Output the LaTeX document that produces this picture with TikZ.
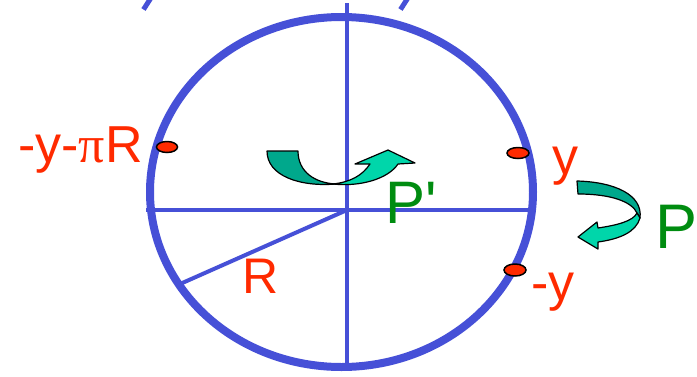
\documentclass[tikz,border=0pt]{standalone}
\usepackage{fontspec}
\newfontfamily\lblfont{Liberation Sans}
\newfontfamily\pifont{Liberation Serif}
\definecolor{ringblue}{HTML}{4650D7}
\definecolor{lblred}{HTML}{FF2A00}
\definecolor{lblgreen}{HTML}{008C10}
\definecolor{tealdark}{HTML}{00A88C}
\definecolor{teallight}{HTML}{00D6AA}
\tikzset{
  ring/.style={draw=ringblue, line width=8pt},
  axisline/.style={draw=ringblue, line width=4.5pt},
  radline/.style={draw=ringblue, line width=4pt},
  dotmark/.style={fill=lblred, draw=black, line width=1.5pt},
  redlbl/.style={text=lblred, inner sep=0pt, font=\lblfont\fontsize{52}{60}\selectfont},
  greenlbl/.style={text=lblgreen, inner sep=0pt},
  darkband/.style={fill=tealdark, draw=black, line width=1.2pt, line join=round},
  lightband/.style={fill=teallight, draw=black, line width=1.2pt, line join=round}
}
\begin{document}
\begin{tikzpicture}[x=1pt,y=-1pt]
\useasboundingbox (0,0) rectangle (697,376);
% remnants of cut-off strokes at the top
\coordinate (s1a) at (151.5,-3); \coordinate (s1b) at (143.5,9.5);
\coordinate (s2a) at (408.5,-3); \coordinate (s2b) at (400.5,9.5);
\draw[ringblue, line width=5pt] (s1a) -- (s1b);
\draw[ringblue, line width=5pt] (s2a) -- (s2b);
% axes
\coordinate (c) at (347,210);
\coordinate (vt) at (347,3);
\coordinate (vb) at (347,367);
\coordinate (hl) at (146,210);
\coordinate (hr) at (530,210);
\coordinate (rend) at (180,284);
\draw[axisline] (vt) -- (vb);
\draw[axisline] (hl) -- (hr);
\draw[radline] (c) -- (rend);
% circle
\draw[ring] (341.5,192) ellipse [x radius=191.5, y radius=175];
% dots
\draw[dotmark] (167,147) ellipse [x radius=10.5, y radius=5.5];
\draw[dotmark] (518,153) ellipse [x radius=11, y radius=5.5];
\draw[dotmark] (515,270) ellipse [x radius=11, y radius=6];
% labels
\node[redlbl, anchor=base west] (ypr) at (18,162) {-y-{\pifont π}R};
\node[redlbl, anchor=base west] (yl) at (552,174) {y};
\node[redlbl, anchor=base west] (myl) at (531,300) {-y};
\node[redlbl, anchor=base west, font=\lblfont\fontsize{50}{58}\selectfont] (rl) at (242,293) {R};
\node[greenlbl, anchor=base west, font=\lblfont\fontsize{60}{70}\selectfont] (ppl) at (385,223) {P'};
\node[greenlbl, anchor=base west, font=\lblfont\fontsize{63}{72}\selectfont] (pl) at (655,248) {P};
% centre curved arrow
\path[darkband] (267,151) -- (298,151)
  .. controls (298,172) and (315,183) .. (336,184)
  .. controls (300,187) and (267,176) .. (267,151) -- cycle;
\path[lightband] (333,184)
  .. controls (360,187) and (388,179) .. (398,164)
  -- (415,163) -- (388,150) -- (355,164) -- (370,164)
  .. controls (362,176) and (350,182) .. (333,184) -- cycle;
% right curved arrow
\path[darkband] (577,181)
  .. controls (615,182) and (643,195) .. (640,218)
  -- (637,213)
  .. controls (632,202) and (612,194) .. (578,194) -- cycle;
\path[lightband] (640,218)
  .. controls (636,232) and (620,239) .. (598,242)
  -- (598,249) -- (578,237) -- (597,222) -- (598,228)
  .. controls (618,225) and (633,221) .. (637,213) -- cycle;
\end{tikzpicture}
\end{document}
